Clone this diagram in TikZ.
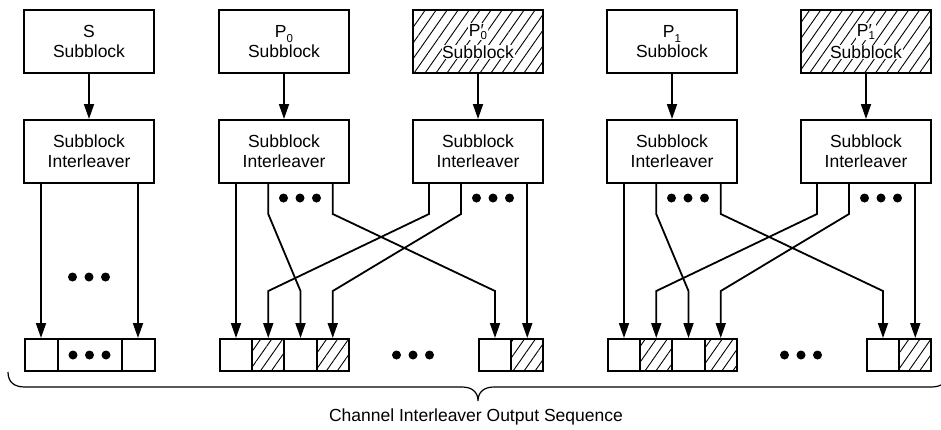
\documentclass[tikz,border=0pt]{standalone}
\usepackage{fontspec}
\setmainfont{Liberation Sans}
\usetikzlibrary{arrows.meta,patterns.meta}
\newcommand\Psub[2]{P\rlap{#1}\raisebox{-0.27em}{\fontsize{11.5}{12}\selectfont #2}}
\newcommand\Psubh[2]{P\rlap{#1}\raisebox{-0.22em}{\fontsize{11.5}{12}\selectfont #2}}
\tikzset{
  box/.style={draw, line width=2pt, minimum width=130pt, minimum height=63pt, inner sep=0pt},
  hatch/.style={pattern={Lines[angle=55,distance=9pt,line width=0.9pt]}},
  lbl/.style={font=\fontsize{17.5}{20}\selectfont, align=center},
  wlbl/.style={font=\fontsize{17.5}{20}\selectfont, fill=white, inner sep=0.5pt, anchor=base},
  cell/.style={draw, line width=2pt, minimum width=32.25pt, minimum height=32pt, inner sep=0pt},
  arr/.style={line width=1.8pt, -{Triangle[length=15pt,width=10pt]}},
  brace/.style={line width=1.2pt},
}
\begin{document}
\begin{tikzpicture}[x=1pt,y=-1pt]
\clip (0,0) rectangle (941,429);
% S group
\node[box,lbl] (s) at (89,41.5) {S\\Subblock};
\node[box,lbl] (si) at (89,151.5) {Subblock\\Interleaver};
\draw[arr] (s) -- (si);
\node[cell,minimum width=33pt] (c1) at (41,355) {};
\node[cell,minimum width=64pt] (c2) at (89.5,355) {};
\node[cell,minimum width=33pt] (c3) at (138,355) {};
\draw[arr] (si.south -| c1) -- (c1.north);
\draw[arr] (si.south -| c3) -- (c3.north);
\foreach \x in {-16.5,0,16.5} {
  \fill (89+\x,277) circle (4.5pt);
  \fill (89.5+\x,355) circle (4.5pt);
}
% P groups
\foreach \g/\dx in {0/0,1/388} {
  \node[box,lbl] (p\g) at (284+\dx,41.5) {\Psub{}{\g}\\Subblock};
  \node[box,hatch] (q\g) at (478+\dx,41.5) {};
  \node[wlbl] (q\g a) at (478+\dx,36) {\Psubh{′}{\g}};
  \node[wlbl] (q\g b) at (478+\dx,58) {Subblock};
  \node[box,lbl] (pi\g) at (284+\dx,151.5) {Subblock\\Interleaver};
  \node[box,lbl] (qi\g) at (478+\dx,151.5) {Subblock\\Interleaver};
  \draw[arr] (p\g) -- (pi\g);
  \draw[arr] (q\g) -- (qi\g);
  \node[cell] (a\g-1) at (236+\dx,355) {};
  \node[cell,hatch] (a\g-2) at (268.25+\dx,355) {};
  \node[cell] (a\g-3) at (300.5+\dx,355) {};
  \node[cell,hatch] (a\g-4) at (332.75+\dx,355) {};
  \node[cell] (b\g-1) at (495+\dx,355) {};
  \node[cell,hatch] (b\g-2) at (527.25+\dx,355) {};
  \draw[arr] (pi\g.south -| a\g-1) -- (a\g-1.north);
  \draw[arr] (pi\g.south -| a\g-2) -- ++(0,30) -- ([yshift=47pt]a\g-3.north) -- (a\g-3.north);
  \draw[arr] (pi\g.south -| a\g-4) -- ++(0,30) -- ([yshift=47pt]b\g-1.north) -- (b\g-1.north);
  \draw[arr] ([xshift=17pt]qi\g.south west) -- ++(0,30) -- ([yshift=47pt]a\g-2.north) -- (a\g-2.north);
  \draw[arr] ([xshift=49pt]qi\g.south west) -- ++(0,30) -- ([yshift=47pt]a\g-4.north) -- (a\g-4.north);
  \draw[arr] (qi\g.south -| b\g-2) -- (b\g-2.north);
  \foreach \x in {-16.5,0,16.5} {
    \fill (300+\dx+\x,198) circle (4.5pt);
    \fill (493+\dx+\x,198) circle (4.5pt);
    \fill (413+\dx+\x,355) circle (4.5pt);
  }
}
% brace
\draw[brace] (8,372) .. controls (8,382) and (14,387) .. (25,387) -- (462,387)
  .. controls (472,387) and (478,392) .. (478,401)
  .. controls (478,392) and (484,387) .. (494,387) -- (931,387)
  .. controls (942,387) and (948,382) .. (948,372);
\node[font=\fontsize{17.5}{20}\selectfont] (cap) at (476,417) {Channel Interleaver Output Sequence};
\end{tikzpicture}
\end{document}
